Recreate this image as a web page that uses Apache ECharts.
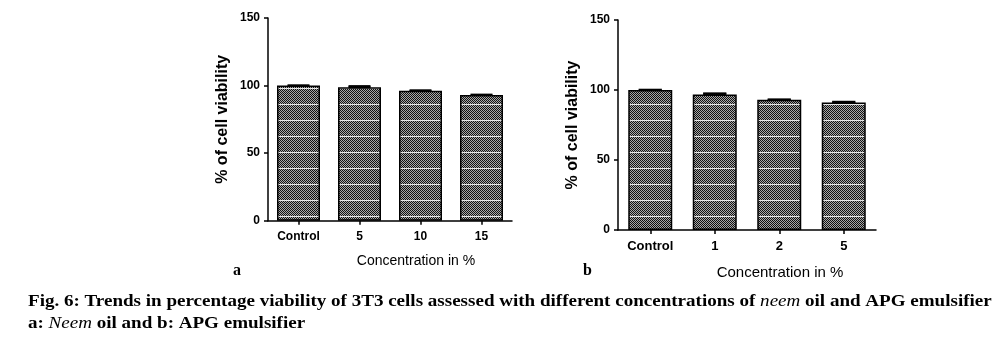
<!DOCTYPE html>
<html><head><meta charset="utf-8">
<script src="https://cdn.jsdelivr.net/npm/echarts@6/dist/echarts.min.js"></script>
<style>html,body{margin:0;padding:0;background:#fff}#c{width:1000px;height:341px}</style>
</head><body><div id="c"></div>
<script>
// Data
const catsA = ['Control', '5', '10', '15'];
const valsA = [100, 98.8, 96.2, 93.0];
const errA = [0.2, 0.8, 0.3, 0.3];
const catsB = ['Control', '1', '2', '5'];
const valsB = [100, 96.8, 93.0, 91.0];
const errB = [0.2, 0.8, 0.3, 0.6];
const yTicks = [0, 50, 100, 150];

// bar fill pattern: dither + periodic white lines
function makePattern() {
  const c = document.createElement('canvas');
  c.width = 4; c.height = 16;
  const g = c.getContext('2d');
  g.fillStyle = '#a8a8a8'; g.fillRect(0, 0, 4, 16);
  g.fillStyle = '#111';
  for (let y = 0; y < 16; y++) for (let x = 0; x < 4; x++) {
    if ((x + y) % 2 === 0) g.fillRect(x, y, 1, 1);
  }
  g.fillStyle = 'rgba(255,255,255,0.85)';
  g.fillRect(0, 8, 4, 1);
  return c;
}
const pat = makePattern();

const ff = '"Liberation Sans", Arial, sans-serif';
const serif = '"Liberation Serif", "Times New Roman", serif';
function axisPair(idx, cats, fs, nameFs, namePad, nameGap) {
  return {
    x: {
      type: 'category', gridIndex: idx, data: cats,
      axisLine: { lineStyle: { color: '#000', width: 1.5 } },
      axisTick: { show: true, alignWithLabel: true, length: 4, lineStyle: { color: '#000', width: 1.5 } },
      axisLabel: { color: '#000', fontFamily: ff, fontWeight: 'bold', fontSize: fs, margin: 10 },
      name: 'Concentration in %', nameLocation: 'middle', nameGap: nameGap,
      nameTextStyle: { color: '#000', fontFamily: ff, fontSize: nameFs, padding: [0, 0, 0, namePad] }
    },
    y: {
      type: 'value', gridIndex: idx, min: 0, max: 150, interval: 50,
      axisLine: { show: true, lineStyle: { color: '#000', width: 1.5 } },
      axisTick: { show: true, length: 4, lineStyle: { color: '#000', width: 1.5 } },
      splitLine: { show: false },
      axisLabel: { color: '#000', fontFamily: ff, fontWeight: 'bold', fontSize: 12, margin: 8,
        formatter: v => yTicks.includes(v) ? String(v) : '' },
      name: '% of cell viability', nameLocation: 'middle', nameGap: 37, nameRotate: 90,
      nameTextStyle: { color: '#000', fontFamily: ff, fontWeight: 'bold', fontSize: 16 }
    }
  };
}
const A = axisPair(0, catsA, 12, 14, 52, 33);
const B = axisPair(1, catsB, 13, 15, 66, 35);

function errSeries(idx, vals, errs) {
  return {
    type: 'custom', xAxisIndex: idx, yAxisIndex: idx, z: 10,
    data: vals.map((v, i) => [i, v, errs[i]]),
    renderItem: (params, api) => {
      const i = api.value(0), v = api.value(1), e = api.value(2);
      const top = api.coord([i, v + e]);
      const bot = api.coord([i, v - e]);
      const w = api.size([1, 0])[0] * 0.36;
      return {
        type: 'group', children: [
          { type: 'line', shape: { x1: top[0], y1: top[1], x2: bot[0], y2: bot[1] }, style: { stroke: '#000', lineWidth: 2 } },
          { type: 'line', shape: { x1: top[0] - w / 2, y1: top[1], x2: top[0] + w / 2, y2: top[1] }, style: { stroke: '#000', lineWidth: 2 } },
          { type: 'rect', shape: { x: top[0] - w / 2, y: top[1], width: w, height: Math.max(0, bot[1] - top[1]) }, style: { fill: '#000' } }
        ]
      };
    }
  };
}

const chart = echarts.init(document.getElementById('c'), null, { renderer: 'canvas' });
chart.setOption({
  animation: false,
  backgroundColor: '#fff',
  grid: [
    { left: 268, top: 18, width: 244, height: 202.7 },
    { left: 618, top: 20, width: 258, height: 210 }
  ],
  xAxis: [A.x, B.x],
  yAxis: [A.y, B.y],
  title: [
    { text: 'a', left: 228, top: 258, textStyle: { fontFamily: serif, fontWeight: 'bold', fontSize: 16, color: '#000' } },
    { text: 'b', left: 578, top: 258, textStyle: { fontFamily: serif, fontWeight: 'bold', fontSize: 16, color: '#000' } }
  ],
  graphic: [{
    type: 'text', x: 28, y: 291, scaleX: 1.19, originX: 0, originY: 0,
    style: {
      text: '{b|Fig. 6: Trends in percentage viability of 3T3 cells assessed with different concentrations of }{i|neem}{b| oil and APG emulsifier}\n{b|a: }{i|Neem}{b| oil and b: APG emulsifier}',
      verticalAlign: 'top', align: 'left',
      rich: {
        b: { fontFamily: serif, fontWeight: 'bold', fontSize: 16, fill: '#000', lineHeight: 22 },
        i: { fontFamily: serif, fontStyle: 'italic', fontWeight: 'normal', fontSize: 16, fill: '#000', lineHeight: 22 }
      }
    }
  }],
  series: [
    { type: 'bar', xAxisIndex: 0, yAxisIndex: 0, data: valsA, barWidth: 43,
      itemStyle: { color: { image: pat, repeat: 'repeat' }, borderColor: '#000', borderWidth: 1.5 } },
    errSeries(0, valsA, errA),
    { type: 'bar', xAxisIndex: 1, yAxisIndex: 1, data: valsB, barWidth: 44,
      itemStyle: { color: { image: pat, repeat: 'repeat' }, borderColor: '#000', borderWidth: 1.5 } },
    errSeries(1, valsB, errB)
  ]
});
</script></body></html>
